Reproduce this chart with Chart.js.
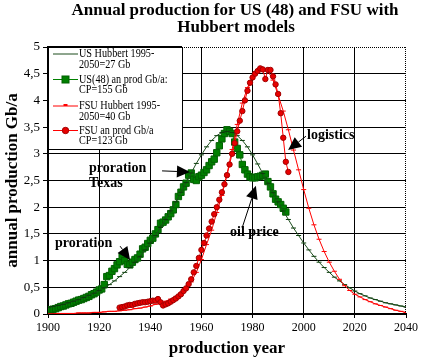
<!DOCTYPE html>
<html>
<head>
<meta charset="utf-8">
<script src="https://cdn.jsdelivr.net/npm/chart.js@4.4.0/dist/chart.umd.min.js"></script>
<style>
body { margin: 0; background: #fff; }
</style>
</head>
<body>
<canvas id="myChart" width="423" height="363"></canvas>
<script>
// Hubbert model curves (read every 2 years)
var hubbertYears = [1900,1902,1904,1906,1908,1910,1912,1914,1916,1918,
    1920,1922,1924,1926,1928,1930,1932,1934,1936,1938,
    1940,1942,1944,1946,1948,1950,1952,1954,1956,1958,
    1960,1962,1964,1966,1968,1970,1972,1974,1976,1978,
    1980,1982,1984,1986,1988,1990,1992,1994,1996,1998,
    2000,2002,2004,2006,2008,2010,2012,2014,2016,2018,
    2020,2022,2024,2026,2028,2030,2032,2034,2036,2038,2040];
var usHubbert = [0.12,0.14,0.16,0.18,0.21,0.24,0.27,0.31,0.35,0.39,
    0.44,0.49,0.55,0.62,0.70,0.78,0.87,0.97,1.08,1.20,
    1.33,1.47,1.62,1.77,1.93,2.10,2.28,2.46,2.64,2.82,
    2.98,3.13,3.25,3.34,3.40,3.42,3.40,3.34,3.25,3.13,
    2.98,2.81,2.63,2.45,2.27,2.10,1.93,1.77,1.61,1.47,
    1.33,1.20,1.08,0.97,0.87,0.78,0.69,0.62,0.55,0.49,
    0.43,0.38,0.34,0.30,0.27,0.24,0.21,0.19,0.17,0.15,0.13];
var fsuHubbert = [0.00,0.00,0.01,0.01,0.01,0.01,0.02,0.02,0.02,0.03,
    0.03,0.04,0.05,0.05,0.06,0.07,0.08,0.10,0.11,0.13,
    0.15,0.18,0.21,0.24,0.28,0.33,0.40,0.48,0.60,0.78,
    1.02,1.30,1.57,1.90,2.22,2.62,3.08,3.55,3.95,4.24,
    4.44,4.55,4.60,4.55,4.38,4.10,3.80,3.45,3.07,2.70,
    2.33,1.98,1.67,1.40,1.17,0.97,0.80,0.65,0.53,0.44,
    0.37,0.32,0.27,0.23,0.19,0.16,0.13,0.10,0.07,0.05,0.03];

// annual production, Gb/a
var usYears = [1900,1901,1902,1903,1904,1905,1906,1907,1908,1909,
    1910,1911,1912,1913,1914,1915,1916,1917,1918,1919,
    1920,1921,1922,1923,1924,1925,1926,1927,1928,1929,
    1930,1931,1932,1933,1934,1935,1936,1937,1938,1939,
    1940,1941,1942,1943,1944,1945,1946,1947,1948,1949,
    1950,1951,1952,1953,1954,1955,1956,1957,1958,1959,
    1960,1961,1962,1963,1964,1965,1966,1967,1968,1969,
    1970,1971,1972,1973,1974,1975,1976,1977,1978,1979,
    1980,1981,1982,1983,1984,1985,1986,1987,1988,1989,
    1990,1991,1992,1993];
var usProd = [0.07,0.08,0.09,0.10,0.12,0.14,0.15,0.17,0.19,0.20,
    0.22,0.24,0.26,0.27,0.29,0.31,0.33,0.36,0.38,0.41,
    0.45,0.47,0.55,0.70,0.72,0.80,0.85,0.92,0.98,1.08,
    1.00,0.93,0.92,0.97,1.02,1.05,1.12,1.22,1.25,1.32,
    1.38,1.42,1.50,1.58,1.70,1.72,1.76,1.82,1.88,1.95,
    2.05,2.20,2.28,2.38,2.45,2.60,2.64,2.52,2.50,2.57,
    2.60,2.65,2.70,2.78,2.85,2.90,3.02,3.15,3.28,3.38,
    3.45,3.42,3.38,3.22,3.10,2.98,2.80,2.70,2.62,2.57,
    2.55,2.55,2.57,2.58,2.60,2.62,2.48,2.38,2.25,2.15,
    2.10,2.05,1.98,1.91];
var fsuYears = [1928,1929,1930,1931,1932,1933,1934,1935,1936,1937,
    1938,1939,1940,1941,1942,1943,1944,1945,1946,1947,
    1948,1949,1950,1951,1952,1953,1954,1955,1956,1957,
    1958,1959,1960,1961,1962,1963,1964,1965,1966,1967,
    1968,1969,1970,1971,1972,1973,1974,1975,1976,1977,
    1978,1979,1980,1981,1982,1983,1984,1985,1986,1987,
    1988,1989,1990,1991,1992,1993,1994];
var fsuProd = [0.12,0.13,0.14,0.16,0.17,0.17,0.19,0.20,0.21,0.22,
    0.22,0.23,0.24,0.25,0.25,0.28,0.22,0.16,0.18,0.20,
    0.23,0.26,0.29,0.33,0.37,0.43,0.48,0.56,0.65,0.78,
    0.90,1.05,1.20,1.33,1.47,1.60,1.73,1.87,2.00,2.14,
    2.28,2.43,2.60,2.80,3.00,3.20,3.42,3.62,3.80,4.00,
    4.18,4.33,4.43,4.50,4.55,4.60,4.58,4.40,4.57,4.57,
    4.45,4.30,4.12,3.76,3.30,2.85,2.66];

var legendLabels = [
    ['US Hubbert 1995-', '2050=27 Gb'],
    ['US(48) an prod Gb/a:', 'CP=155 Gb'],
    ['FSU Hubbert 1995-', '2050=40 Gb'],
    ['FSU an prod Gb/a', 'CP=123 Gb']
];

function pts(xs, ys) {
    return xs.map(function (x, i) { return { x: x, y: ys[i] }; });
}

var serif = "'Liberation Serif', 'Times New Roman', serif";

function arrow(c, x1, y1, x2, y2) {
    var ang = Math.atan2(y2 - y1, x2 - x1);
    var hl = 13, hw = 6;
    var bx = x2 - hl * Math.cos(ang), by = y2 - hl * Math.sin(ang);
    c.beginPath();
    c.moveTo(x1, y1);
    c.lineTo(bx, by);
    c.stroke();
    c.beginPath();
    c.moveTo(x2, y2);
    c.lineTo(bx + hw * Math.sin(ang), by - hw * Math.cos(ang));
    c.lineTo(bx - hw * Math.sin(ang), by + hw * Math.cos(ang));
    c.closePath();
    c.fill();
}

var overlay = {
    id: 'overlay',
    afterDraw: function (chart) {
        var c = chart.ctx, a = chart.chartArea;
        var xs = chart.scales.x, ys = chart.scales.y;
        function px(v) { return xs.getPixelForValue(v); }
        function py(v) { return ys.getPixelForValue(v); }
        c.save();

        // dotted frame top and right
        c.strokeStyle = '#000';
        c.lineWidth = 1;
        c.setLineDash([1, 1]);
        c.beginPath();
        c.moveTo(a.left, a.top + 0.5);
        c.lineTo(a.right, a.top + 0.5);
        c.moveTo(a.right - 0.5, a.top);
        c.lineTo(a.right - 0.5, a.bottom);
        c.stroke();
        c.setLineDash([]);

        // title
        c.fillStyle = '#000';
        c.textAlign = 'center';
        c.textBaseline = 'middle';
        c.font = 'bold 17px ' + serif;
        c.fillText('Annual production for US (48) and FSU with', 235, 11);
        c.fillText('Hubbert models', 236, 28);

        // annotations
        c.font = 'bold 14px ' + serif;
        c.textAlign = 'left';
        c.fillText('proration', px(1902.7), py(1.33));
        c.fillText('proration', px(1916), py(2.73));
        c.fillText('Texas', px(1916), py(2.45));
        c.fillText('oil price', px(1971.2), py(1.52));
        c.fillText('logistics', px(2001.3), py(3.35));
        c.lineWidth = 1;
        arrow(c, px(1928.2), py(1.27), px(1932.1), py(1.01));
        arrow(c, px(1944.6), py(2.68), px(1955.5), py(2.66));
        arrow(c, px(1975.9), py(1.61), px(1981.3), py(2.40));
        arrow(c, px(2000.9), py(3.33), px(1993.9), py(3.07));

        // legend box
        var lx = a.left, ly = a.top, lw = 134, lh = 102;
        c.fillStyle = '#fff';
        c.fillRect(lx, ly, lw, lh);
        c.strokeStyle = '#000';
        c.lineWidth = 1;
        c.strokeRect(lx + 0.5, ly + 0.5, lw, lh);
        c.lineWidth = 2;
        c.beginPath();
        c.moveTo(lx, ly + lh);
        c.lineTo(lx, ly);
        c.lineTo(lx + lw, ly);
        c.stroke();

        var rowY = [7, 32.5, 59, 83.5];
        var sx1 = lx + 5, sx2 = lx + 30, mx = lx + 17.5;
        for (var i = 0; i < 4; i++) {
            var yy = ly + rowY[i];
            c.lineWidth = 1;
            c.strokeStyle = (i < 2) ? (i === 0 ? '#1d4d1d' : '#008000') : '#ff0000';
            c.beginPath();
            c.moveTo(sx1, yy);
            c.lineTo(sx2, yy);
            c.stroke();
            if (i === 1) {
                c.fillStyle = '#008000';
                c.fillRect(mx - 3.5, yy - 3.5, 7, 7);
                c.strokeStyle = '#006000';
                c.strokeRect(mx - 3.5, yy - 3.5, 7, 7);
            } else if (i === 2) {
                c.fillStyle = '#ff0000';
                c.fillRect(mx - 2, yy - 2, 4, 2);
            } else if (i === 3) {
                c.fillStyle = '#e80000';
                c.strokeStyle = '#a00000';
                c.beginPath();
                c.arc(mx, yy, 3.2, 0, Math.PI * 2);
                c.fill();
                c.stroke();
            }
            c.fillStyle = '#000';
            c.font = '12px ' + serif;
            c.textAlign = 'left';
            for (var k = 0; k < 2; k++) {
                c.save();
                c.translate(lx + 31, yy + k * 10.5);
                c.scale(0.85, 1);
                c.fillText(legendLabels[i][k], 0, 0);
                c.restore();
            }
        }
        c.restore();
    }
};

var ctx = document.getElementById('myChart').getContext('2d');
var myChart = new Chart(ctx, {
    type: 'line',
    data: {
        datasets: [{
            label: 'FSU an prod Gb/a CP=123 Gb',
            data: pts(fsuYears, fsuProd),
            borderColor: '#ff0000',
            borderWidth: 1,
            pointStyle: 'circle',
            pointRadius: 2.7,
            pointBackgroundColor: '#e80000',
            pointBorderColor: '#a00000',
            pointBorderWidth: 1,
            order: 1
        }, {
            label: 'FSU Hubbert 1995-2050=40 Gb',
            data: pts(hubbertYears, fsuHubbert),
            borderColor: '#ff0000',
            borderWidth: 1,
            pointStyle: 'line',
            pointRadius: 2.5,
            pointBorderColor: '#ff0000',
            pointBorderWidth: 1,
            order: 2
        }, {
            label: 'US Hubbert 1995-2050=27 Gb',
            data: pts(hubbertYears, usHubbert),
            borderColor: '#1d4d1d',
            borderWidth: 1,
            pointStyle: 'line',
            pointRadius: 2.5,
            pointBorderColor: '#0b3d0b',
            pointBorderWidth: 1,
            order: 3
        }, {
            label: 'US(48) an prod Gb/a: CP=155 Gb',
            data: pts(usYears, usProd),
            borderColor: '#008000',
            borderWidth: 1,
            pointStyle: 'rect',
            pointRadius: 4.5,
            pointBackgroundColor: '#008000',
            pointBorderColor: '#006000',
            pointBorderWidth: 1,
            order: 4
        }]
    },
    options: {
        responsive: false,
        animation: false,
        layout: { padding: { top: 47, right: 17, bottom: 4, left: 0 } },
        plugins: {
            legend: { display: false },
            tooltip: { enabled: false }
        },
        scales: {
            x: {
                type: 'linear',
                min: 1900,
                max: 2040,
                afterFit: function (s) { s.height = 45; },
                ticks: { stepSize: 20, color: '#000', padding: 3, maxRotation: 0,
                    font: { family: serif, size: 12 },
                    callback: function (v) { return String(v); } },
                grid: {
                    color: function (c) { return c.tick && c.tick.value === 2040 ? 'rgba(0,0,0,0)' : '#000'; },
                    tickColor: '#000',
                    tickLength: 4
                },
                border: { color: '#000', width: 2 },
                title: { display: true, text: 'production year', color: '#000',
                    padding: 0, font: { family: serif, size: 17, weight: 'bold' } }
            },
            y: {
                min: 0,
                max: 5,
                afterFit: function (s) { s.width = 48; },
                ticks: { stepSize: 0.5, color: '#000', padding: 3,
                    font: { family: serif, size: 13 },
                    callback: function (v) { return String(v).replace('.', ','); } },
                grid: {
                    color: function (c) { return c.tick && c.tick.value === 5 ? 'rgba(0,0,0,0)' : '#000'; },
                    tickColor: '#000',
                    tickLength: 5
                },
                border: { color: '#000', width: 2 },
                title: { display: true, text: 'annual production Gb/a', color: '#000',
                    padding: { top: 2, bottom: 0 }, font: { family: serif, size: 17, weight: 'bold' } }
            }
        }
    },
    plugins: [overlay]
});
</script>
</body>
</html>
